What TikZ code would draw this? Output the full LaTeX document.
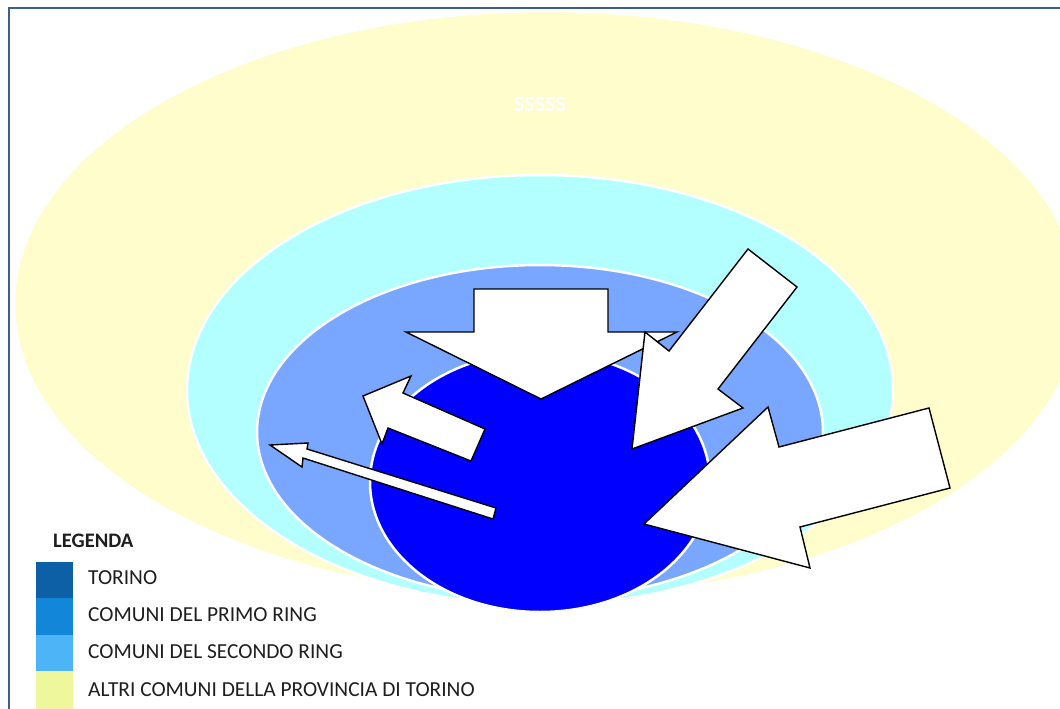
\documentclass[tikz,border=0pt]{standalone}
\usepackage{fontspec}
\newfontfamily\carl{Carlito}
\definecolor{provyel}{HTML}{FEFDCB}
\definecolor{ringtwo}{HTML}{B3FFFF}
\definecolor{ringone}{HTML}{79A6FF}
\definecolor{tocol}{HTML}{0000FF}
\definecolor{framecol}{HTML}{3B5E8D}
\definecolor{legto}{HTML}{0D5FA6}
\definecolor{legp}{HTML}{1286D8}
\definecolor{legs}{HTML}{4DB4F8}
\definecolor{lega}{HTML}{EFF79C}
\definecolor{legtxt}{HTML}{1E1E1E}
\begin{document}
\begin{tikzpicture}[x=1pt,y=-1pt,
  zone/.style={draw=white, line width=2.5pt},
  flowarrow/.style={fill=white, draw=black, line width=1.4pt, line join=miter},
  swatch/.style={draw=none, minimum width=37pt, minimum height=36.8pt, inner sep=0pt, outer sep=0pt},
  legtext/.style={anchor=base west, inner sep=0pt, text=legtxt, font=\carl\fontsize{21.4}{25}\selectfont}]
\useasboundingbox (0,0) rectangle (1060,709);
\fill[white] (0,0) rectangle (1060,709);
\draw[framecol, line width=2pt] (9,720) -- (9,8) -- (1070,8);
% zones
\draw[zone, fill=provyel] (547,304) ellipse [x radius=533pt, y radius=293pt];
\node[text=white, font=\carl\bfseries\fontsize{22}{26}\selectfont, inner sep=0pt] (ss) at (540,104) {SSSSS};
\draw[zone, fill=ringtwo] (540,390) ellipse [x radius=353pt, y radius=215pt];
\draw[zone, fill=ringone] (540,432) ellipse [x radius=283pt, y radius=167pt];
\draw[zone, fill=tocol] (540,482) ellipse [x radius=170pt, y radius=130pt];
% arrows
\draw[flowarrow] (474,289) -- (608,289) -- (608,332) -- (677,332) -- (541,399) -- (406,332) -- (474,332) -- cycle;
\draw[flowarrow] (748,249) -- (797,287) -- (718,389) -- (743,408) -- (632,449) -- (645,332) -- (669,351) -- cycle;
\draw[flowarrow] (929,408) -- (950,488) -- (800,527) -- (810,568) -- (644,524) -- (768,407) -- (779,447) -- cycle;
\draw[flowarrow] (363,396) -- (411,376) -- (403,393) -- (485,429) -- (471,461) -- (388,428) -- (382,444) -- cycle;
\draw[flowarrow] (270,445) -- (308,443) -- (307,449) -- (496,508) -- (493,519) -- (303,458) -- (302,467) -- cycle;
% legend
\node[legtext, font=\carl\bfseries\fontsize{20.6}{24}\selectfont] (leg) at (53,547) {LEGENDA};
\node[swatch, fill=legto, anchor=north west] (sw1) at (36,562) {};
\node[swatch, fill=legp, anchor=north west] (sw2) at (36,598) {};
\node[swatch, fill=legs, anchor=north west] (sw3) at (36,635) {};
\node[swatch, fill=lega, anchor=north west, minimum height=42pt] (sw4) at (36,671) {};
\node[legtext] (t1) at (88,584) {TORINO};
\node[legtext] (t2) at (88,621) {COMUNI DEL PRIMO RING};
\node[legtext] (t3) at (88,658) {COMUNI DEL SECONDO RING};
\node[legtext] (t4) at (88,696) {ALTRI COMUNI DELLA PROVINCIA DI TORINO};
\end{tikzpicture}
\end{document}
